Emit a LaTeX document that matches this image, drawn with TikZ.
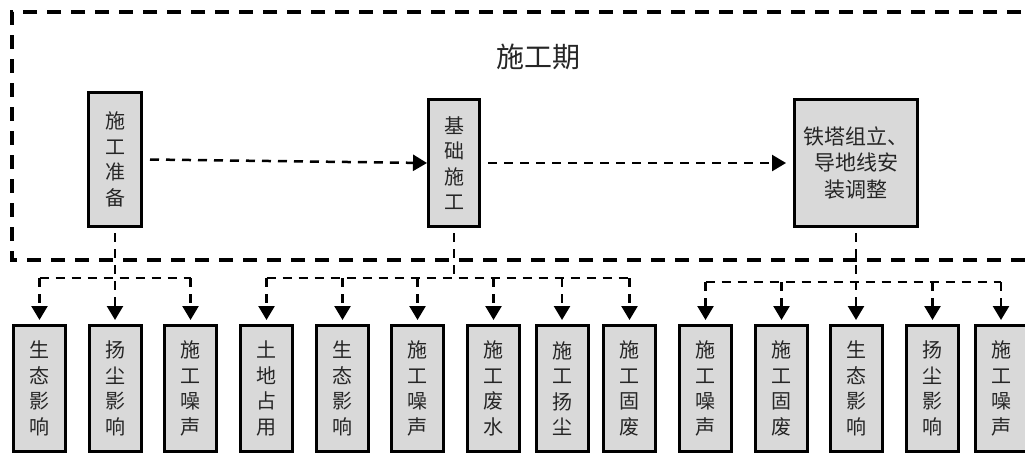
\documentclass[tikz,border=0pt]{standalone}
\usepackage{fontspec}
\newfontfamily\cjk{Noto Sans CJK SC}
\usetikzlibrary{arrows.meta}
\begin{document}
\begin{tikzpicture}[x=1pt,y=-1pt,
  frame/.style={line width=3.5pt,dash pattern=on 14pt off 10pt},
  conn/.style={line width=2.5pt,dash pattern=on 9pt off 7pt},
  arr/.style={conn,-{Triangle[width=16pt,length=14pt]},shorten >=4pt},
  box/.style={draw,line width=3pt,fill=black!15,inner sep=0pt,align=center,
    text=black!85,font=\cjk\fontsize{20}{25.5}\selectfont},
  sbox/.style={box,minimum width=52pt,minimum height=126pt}]
\useasboundingbox (0,0) rectangle (1025,455);
\clip (0,0) rectangle (1025,455);
\draw[frame] (1045,12) -- (12,12) -- (12,260) -- (1045,260);
\node[font=\cjk\fontsize{28}{30}\selectfont,text=black!85] (title) at (538,57) {施工期};
% process boxes
\node[box,minimum width=53pt,minimum height=134pt] (p1) at (115,159.5) {施\\工\\准\\备};
\node[box,minimum width=51pt,minimum height=127pt] (p2) at (454,163) {基\\础\\施\\工};
\node[box,minimum width=123pt,minimum height=127pt,font=\cjk\fontsize{21}{26.5}\selectfont] (p3) at (856,163) {铁塔组立、\\导地线安\\装调整};
% impact boxes
\node[sbox] (b1) at (39.5,388.5) {生\\态\\影\\响};
\node[sbox] (b2) at (115.5,388.5) {扬\\尘\\影\\响};
\node[sbox] (b3) at (190.5,388.5) {施\\工\\噪\\声};
\node[sbox] (b4) at (266.5,388.5) {土\\地\\占\\用};
\node[sbox] (b5) at (342.5,388.5) {生\\态\\影\\响};
\node[sbox] (b6) at (417.5,388.5) {施\\工\\噪\\声};
\node[sbox] (b7) at (493.5,388.5) {施\\工\\废\\水};
\node[sbox] (b8) at (562,388.5) {施\\工\\扬\\尘};
\node[sbox] (b9) at (629.5,388.5) {施\\工\\固\\废};
\node[sbox] (b10) at (705.5,388.5) {施\\工\\噪\\声};
\node[sbox] (b11) at (781.5,388.5) {施\\工\\固\\废};
\node[sbox] (b12) at (856.5,388.5) {生\\态\\影\\响};
\node[sbox] (b13) at (932.5,388.5) {扬\\尘\\影\\响};
\node[sbox] (b14) at (1001,388.5) {施\\工\\噪\\声};
% horizontal flow
\draw[arr,shorten >=0pt] ([xshift=7pt]p1.east) -- (p2.west);
\draw[arr,shorten >=7pt] ([xshift=7pt]p2.east) -- (p3.west);
% group 1
\coordinate (h1) at (0,278);
\draw[arr] ([yshift=-5pt]p1.south) -- (p1.south |- b2.north);
\draw[conn] (b1.north |- h1) -- (b3.north |- h1);
\draw[arr] (b1.north |- h1) -- (b1.north);
\draw[arr] (b3.north |- h1) -- (b3.north);
% group 2
\coordinate (h2) at (0,278);
\draw[conn] ([yshift=-5pt]p2.south) -- (p2.south |- h2);
\draw[conn] (b4.north |- h2) -- (b9.north |- h2);
\foreach \b in {b4,b5,b6,b7,b8,b9}{\draw[arr] (\b.north |- h2) -- (\b.north);}
% group 3
\coordinate (h3) at (0,282);
\draw[arr] ([yshift=-5pt]p3.south) -- (p3.south |- b12.north);
\draw[conn] (b10.north |- h3) -- (b14.north |- h3);
\foreach \b in {b10,b11,b13,b14}{\draw[arr] (\b.north |- h3) -- (\b.north);}
\end{tikzpicture}
\end{document}
